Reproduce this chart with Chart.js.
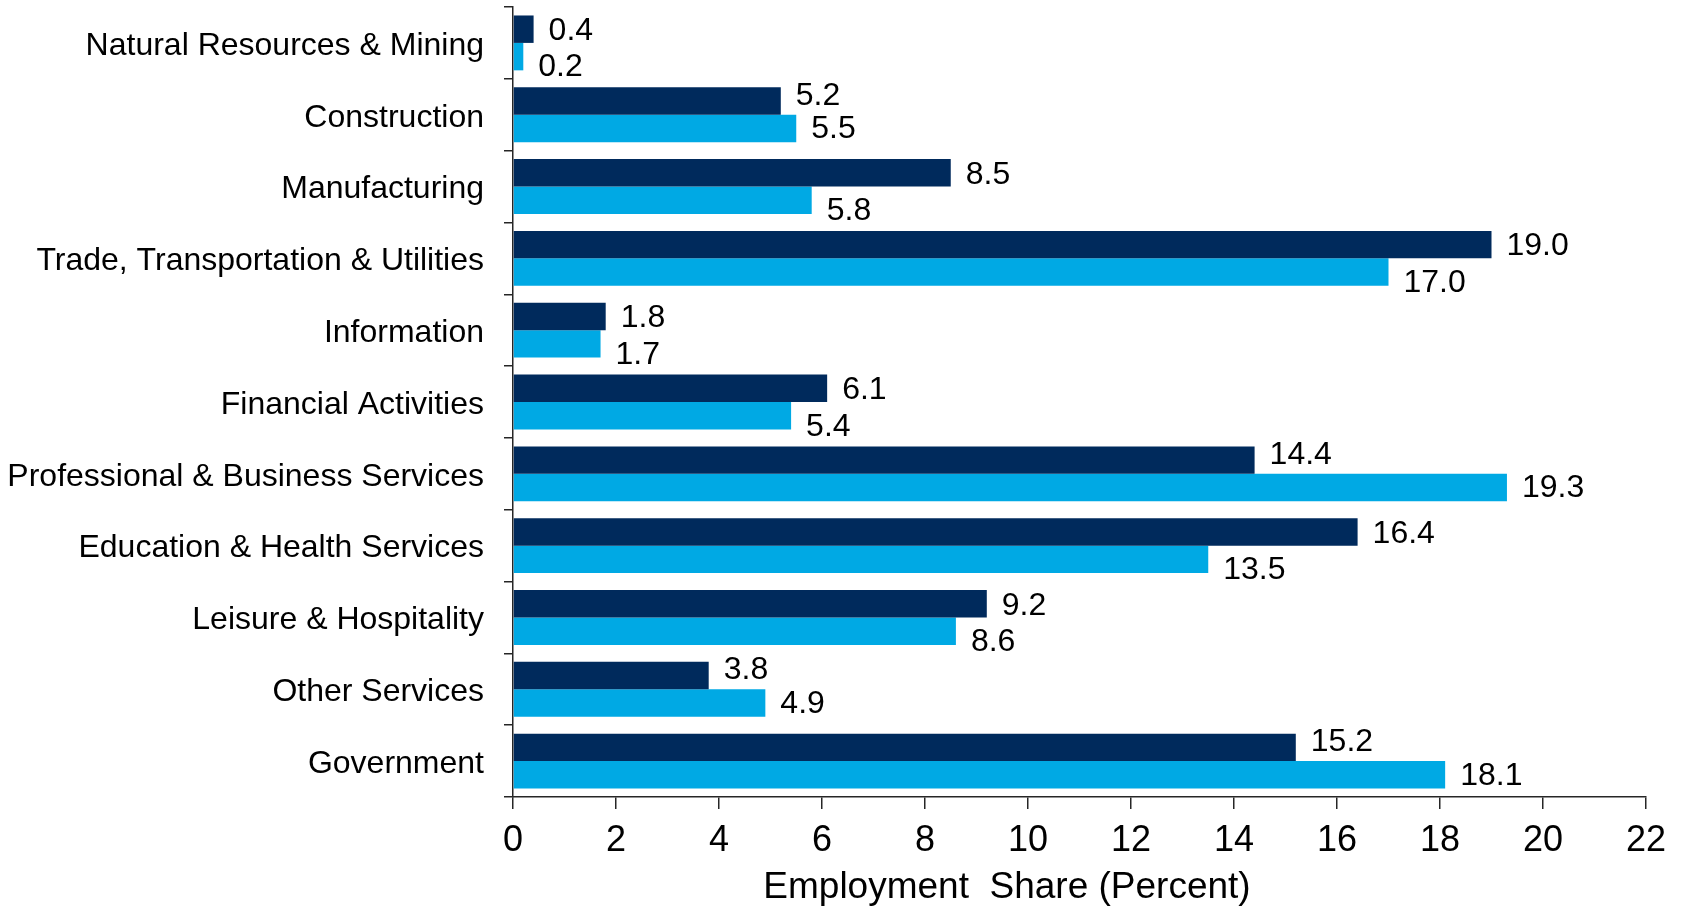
<!DOCTYPE html>
<html>
<head>
<meta charset="utf-8">
<script src="https://cdn.jsdelivr.net/npm/chart.js@4.4.1/dist/chart.umd.min.js"></script>
<style>
html,body{margin:0;padding:0;background:#ffffff;}
#wrap{width:1684px;height:908px;position:relative;}
</style>
</head>
<body>
<div id="wrap"><canvas id="c"></canvas></div>
<script>
const categories = [
  'Natural Resources & Mining',
  'Construction',
  'Manufacturing',
  'Trade, Transportation & Utilities',
  'Information',
  'Financial Activities',
  'Professional & Business Services',
  'Education & Health Services',
  'Leisure & Hospitality',
  'Other Services',
  'Government'
];
const seriesDark = [0.4, 5.2, 8.5, 19.0, 1.8, 6.1, 14.4, 16.4, 9.2, 3.8, 15.2];
const seriesLight = [0.2, 5.5, 5.8, 17.0, 1.7, 5.4, 19.3, 13.5, 8.6, 4.9, 18.1];
const xTickValues = [0, 2, 4, 6, 8, 10, 12, 14, 16, 18, 20, 22];
const xTitle = 'Employment  Share (Percent)';

const FONT = '"Liberation Sans", Arial, Helvetica, sans-serif';
const AXIS_COLOR = '#262626';

const barLabels = {
  id: 'barLabels',
  afterDatasetsDraw(chart) {
    const ctx = chart.ctx;
    const m0 = chart.getDatasetMeta(0);
    const m1 = chart.getDatasetMeta(1);
    ctx.save();
    ctx.font = '32px ' + FONT;
    ctx.fillStyle = '#000000';
    ctx.textAlign = 'left';
    ctx.textBaseline = 'middle';
    categories.forEach((c, i) => {
      const a = seriesDark[i], b = seriesLight[i];
      const ea = m0.data[i], eb = m1.data[i];
      const darkLonger = a >= b;
      const dyA = darkLonger ? 2 : -5;
      const dyB = darkLonger ? 11 : 1;
      ctx.fillText(a.toFixed(1), ea.x + 15, ea.y + dyA);
      ctx.fillText(b.toFixed(1), eb.x + 15, eb.y + dyB);
    });
    ctx.restore();
  }
};

const axisTitle = {
  id: 'axisTitle',
  afterDraw(chart) {
    const ctx = chart.ctx;
    const area = chart.chartArea;
    ctx.save();
    ctx.font = '37px ' + FONT;
    ctx.fillStyle = '#000000';
    ctx.textAlign = 'center';
    ctx.textBaseline = 'alphabetic';
    const cx = area.left + 0.436 * (area.right - area.left);
    ctx.fillText(xTitle, cx, area.bottom + 101);
    ctx.restore();
  }
};

new Chart(document.getElementById('c'), {
  type: 'bar',
  data: {
    labels: categories,
    datasets: [
      { label: 'Region', data: seriesDark, backgroundColor: '#002A5C', borderWidth: 0,
        categoryPercentage: 0.764, barPercentage: 1.0 },
      { label: 'U.S.', data: seriesLight, backgroundColor: '#00A9E4', borderWidth: 0,
        categoryPercentage: 0.764, barPercentage: 1.0 }
    ]
  },
  options: {
    indexAxis: 'y',
    responsive: true,
    maintainAspectRatio: false,
    animation: false,
    devicePixelRatio: 1,
    layout: { padding: { left: 0, right: 38, top: 7, bottom: 0 } },
    plugins: { legend: { display: false }, tooltip: { enabled: false } },
    scales: {
      x: {
        type: 'linear',
        min: 0, max: 22,
        afterBuildTicks(scale) { scale.ticks = xTickValues.map(v => ({ value: v })); },
        afterFit(scale) { scale.height = 111; scale.paddingLeft = 0; scale.paddingRight = 0; },
        ticks: { font: { family: FONT, size: 36 }, color: '#000000', padding: 10, maxRotation: 0, autoSkip: false },
        grid: { drawOnChartArea: false, drawTicks: true, tickLength: 12, color: AXIS_COLOR, lineWidth: 1.5 },
        border: { display: true, color: AXIS_COLOR, width: 1.5 }
      },
      y: {
        type: 'category',
        afterFit(scale) { scale.width = 513; scale.paddingTop = 0; scale.paddingBottom = 0; },
        ticks: { font: { family: FONT, size: 32 }, color: '#000000', padding: 20, autoSkip: false, labelOffset: 3 },
        grid: { drawOnChartArea: false, drawTicks: true, tickLength: 9, color: AXIS_COLOR, lineWidth: 1.5, offset: true },
        border: { display: true, color: AXIS_COLOR, width: 1.5 }
      }
    }
  },
  plugins: [barLabels, axisTitle]
});
</script>
</body>
</html>
